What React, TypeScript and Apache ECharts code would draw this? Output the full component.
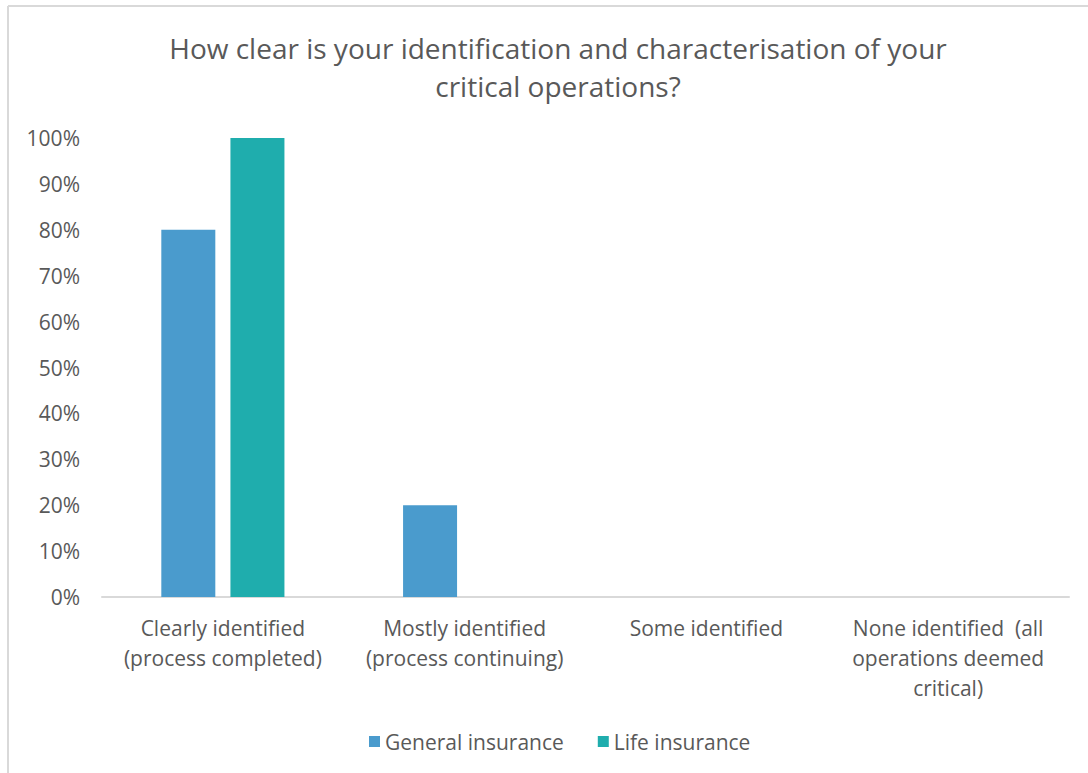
import React, { useEffect, useRef } from "react";
import * as echarts from "echarts";

const categories = [
  "Clearly identified\n(process completed)",
  "Mostly identified\n(process continuing)",
  "Some identified",
  "None identified  (all\noperations deemed\ncritical)",
];
const generalInsurance = [0.8, 0.2, 0, 0];
const lifeInsurance = [1.0, 0, 0, 0];
const yTicks = [0, 0.1, 0.2, 0.3, 0.4, 0.5, 0.6, 0.7, 0.8, 0.9, 1.0];

const FONT = "'Open Sans', sans-serif";
const TEXT = "#595959";

export default function App() {
  const ref = useRef<HTMLDivElement>(null);
  useEffect(() => {
    if (!ref.current) return;
    const chart = echarts.init(ref.current, null, { renderer: "svg" });
    chart.setOption({
      animation: false,
      backgroundColor: "#ffffff",
      title: {
        text: "How clear is your identification and characterisation of your\ncritical operations?",
        left: 553,
        textAlign: "center",
        top: 24,
        textStyle: {
          fontFamily: FONT,
          fontSize: 28,
          fontWeight: "normal",
          color: TEXT,
          lineHeight: 38,
        },
      },
      graphic: [
        { type: "line", shape: { x1: 8, y1: 6, x2: 1088, y2: 6 }, style: { stroke: "#d9d9d9", lineWidth: 2 } },
        { type: "line", shape: { x1: 8, y1: 6, x2: 8, y2: 773 }, style: { stroke: "#d9d9d9", lineWidth: 2 } },
      ],
      legend: {
        data: ["General insurance", "Life insurance"],
        left: 364,
        top: 726,
        icon: "rect",
        itemWidth: 11,
        itemHeight: 11,
        itemGap: 34,
        textStyle: { fontFamily: FONT, fontSize: 21, color: TEXT },
      },
      grid: { left: 102, right: 19, top: 138, bottom: 176, containLabel: false },
      xAxis: {
        type: "category",
        data: categories,
        axisLine: { lineStyle: { color: "#d9d9d9", width: 2 } },
        axisTick: { show: false },
        axisLabel: {
          fontFamily: FONT,
          fontSize: 21,
          color: TEXT,
          lineHeight: 30,
          margin: 16,
          interval: 0,
        },
      },
      yAxis: {
        type: "value",
        min: 0,
        max: 1,
        interval: 0.1,
        splitLine: { show: false },
        axisLine: { show: false },
        axisTick: { show: false },
        axisLabel: {
          fontFamily: FONT,
          fontSize: 21,
          color: TEXT,
          margin: 22,
          formatter: (v: number) => (yTicks.some((t) => Math.abs(t - v) < 1e-9) ? Math.round(v * 100) + "%" : ""),
        },
      },
      series: [
        {
          name: "General insurance",
          type: "bar",
          data: generalInsurance,
          barWidth: 54,
          barGap: "28%",
          itemStyle: { color: "#4a9bcd" },
        },
        {
          name: "Life insurance",
          type: "bar",
          data: lifeInsurance,
          barWidth: 54,
          itemStyle: { color: "#1fadad" },
        },
      ],
    });
    return () => chart.dispose();
  }, []);
  return (
    <div
      ref={ref}
      style={{ position: "fixed", left: 0, top: 0, width: 1088, height: 773 }}
    />
  );
}
